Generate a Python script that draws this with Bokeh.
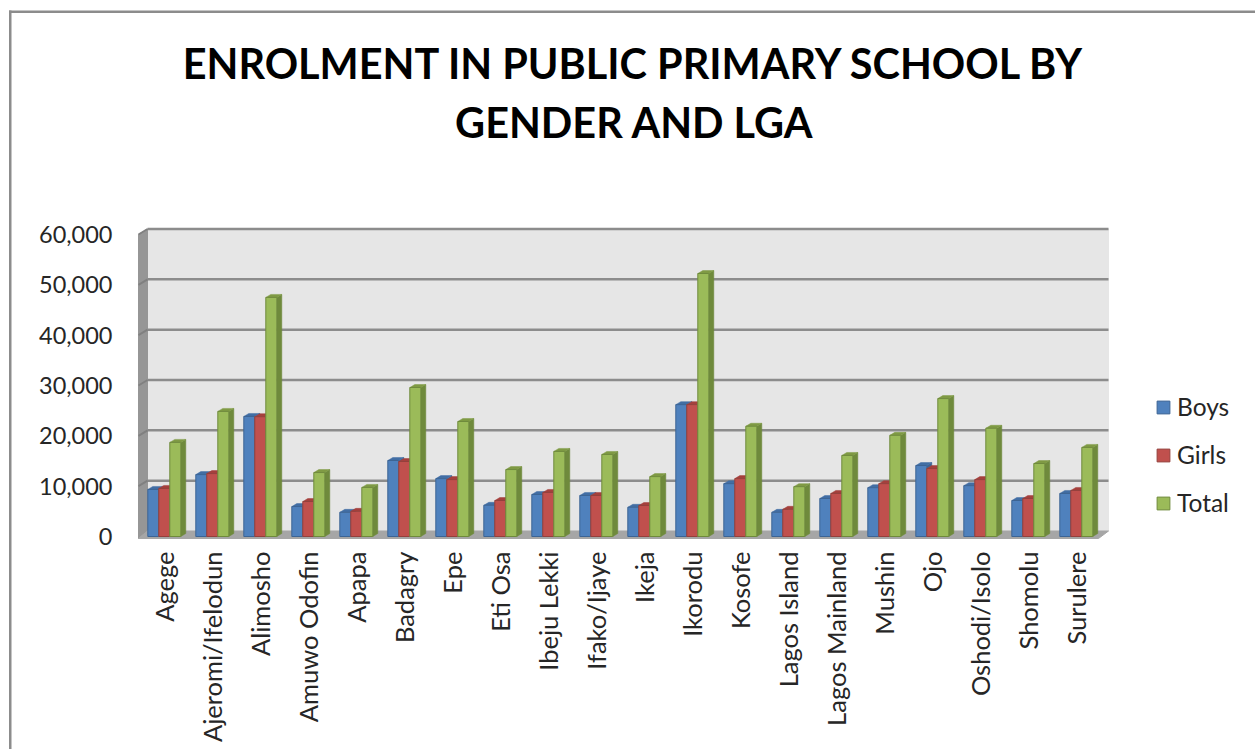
import math
import numpy as np
from bokeh.plotting import figure
from bokeh.models import Range1d, FixedTicker, Label, BoxAnnotation, Legend, LegendItem, ColumnDataSource, NumeralTickFormatter
from bokeh.embed import file_html
from bokeh.resources import INLINE

categories = ["Agege", "Ajeromi/Ifelodun", "Alimosho", "Amuwo Odofin", "Apapa", "Badagry", "Epe", "Eti Osa",
              "Ibeju Lekki", "Ifako/Ijaye", "Ikeja", "Ikorodu", "Kosofe", "Lagos Island", "Lagos Mainland",
              "Mushin", "Ojo", "Oshodi/Isolo", "Shomolu", "Surulere"]
boys = [9350, 12300, 23850, 5950, 4800, 15100, 11500, 6200, 8350, 8150, 5800, 26200, 10500, 4800, 7550, 9700, 14100, 10100, 7150, 8550]
girls = [9550, 12500, 23800, 6950, 5000, 14900, 11300, 7150, 8750, 8150, 6150, 26200, 11500, 5400, 8550, 10500, 13500, 11300, 7550, 9150]
total = [18700, 24850, 47500, 12700, 9750, 29600, 22850, 13300, 16900, 16300, 11900, 52250, 21900, 9900, 16100, 20100, 27400, 21500, 14500, 17700]
y_ticks = [0, 10000, 20000, 30000, 40000, 50000, 60000]
title_lines = ["ENROLMENT IN PUBLIC PRIMARY SCHOOL BY", "GENDER AND LGA"]

FONT = "Lato"
# picture-pixel layout
W, H = 1255, 749
Y0, Y60 = 536, 234
X0, STEP = 163.8, 48.0
val_per_px = 60000 / (Y0 - Y60)


def xd(px):
    return (px - X0) / STEP


def yd(py):
    return (Y0 - py) * val_per_px


p = figure(width=W, height=H, output_backend="svg", toolbar_location=None,
           x_range=Range1d(xd(0), xd(W)), y_range=Range1d(yd(H), yd(0)),
           min_border_left=0, min_border_right=0, min_border_top=0, min_border_bottom=0,
           background_fill_color="white", border_fill_color="white", outline_line_color=None)
p.grid.visible = False

# walls
n = len(categories)
wx_f, wx_b, wx_r = xd(138), xd(147), xd(1108)
wall_dy = 5.5 * val_per_px
top = y_ticks[-1]
p.patch([wx_b, wx_r, wx_r, wx_b], [wall_dy, wall_dy, top + wall_dy, top + wall_dy], fill_color="#e6e6e6", line_color="#e6e6e6")
p.patch([wx_f, wx_b, wx_b, wx_f], [yd(538), wall_dy, top + wall_dy, top], fill_color="#969696", line_color="#969696")
p.patch([wx_f, wx_b, wx_r, xd(1098)], [yd(538), wall_dy, wall_dy, yd(538)], fill_color="#a6a6a6", line_color="#a6a6a6")
for v in y_ticks[1:]:
    p.line([wx_b, wx_r], [v + wall_dy, v + wall_dy], line_color="#8c8c8c", line_width=2.5)
    p.line([wx_f, wx_b], [v, v + wall_dy], line_color="#808080", line_width=2)

# bars
bw = 11 / STEP
dx = 5 / STEP
dy = 3.0 * val_per_px
series = [("Boys", boys, -bw, "#4f81bd", "#3c6494", "#426ea4"),
          ("Girls", girls, 0.0, "#c0504d", "#94403c", "#a5403d"),
          ("Total", total, bw, "#9bbb59", "#6f8a3c", "#7f9a44")]
idx = np.arange(n)
items = []
for name, vals, off, front, side, topc in series:
    vals = np.array(vals, dtype=float)
    c = idx + off
    l, r = c - bw / 2, c + bw / 2
    p.patches([[a, a + dx, a + dx, a] for a in r],
              [[0, dy, v + dy, v] for v in vals], fill_color=side, line_color=side, line_width=0.5)
    p.patches([[a, a + dx, b + dx, b] for a, b in zip(l, r)],
              [[v, v + dy, v + dy, v] for v in vals], fill_color=topc, line_color=topc, line_width=0.5)
    src = ColumnDataSource(dict(x=c, top=vals))
    rend = p.vbar(x="x", top="top", bottom=0, width=bw, source=src, fill_color=front, line_color=side, line_width=1)
    items.append(LegendItem(label=name, renderers=[rend]))

p.xaxis.fixed_location = yd(542)
p.xaxis.ticker = FixedTicker(ticks=list(range(n)))
p.xaxis.major_label_overrides = {i: c for i, c in enumerate(categories)}
p.xaxis.major_label_orientation = math.pi / 2
p.xaxis.major_label_text_font = FONT
p.xaxis.major_label_text_font_size = "25.5px"
p.xaxis.major_label_text_color = "#262626"
p.xaxis.major_label_standoff = 3
p.xaxis.axis_line_color = None
p.xaxis.major_tick_line_color = None
p.xaxis.minor_tick_line_color = None

p.yaxis.fixed_location = xd(138)
p.yaxis.ticker = FixedTicker(ticks=y_ticks)
p.yaxis.formatter = NumeralTickFormatter(format="0,0")
p.yaxis.major_label_text_font = FONT
p.yaxis.major_label_text_font_size = "23.5px"
p.yaxis.major_label_text_color = "#262626"
p.yaxis.major_label_standoff = 20
p.yaxis.axis_line_color = None
p.yaxis.major_tick_line_color = None
p.yaxis.minor_tick_line_color = None

leg = Legend(items=items, location=(1155, H - 517), glyph_width=16, glyph_height=16, label_text_font=FONT,
             label_text_font_size="24.5px", label_text_color="#262626", spacing=19, border_line_color=None,
             background_fill_alpha=0, margin=0, padding=0, label_standoff=6)
p.add_layout(leg, "center")

# chart frame
for l, r, t, b in ((8.5, 11, 10, H), (8.5, W, 10, 12.5)):
    p.add_layout(BoxAnnotation(left=xd(l), right=xd(r), top=yd(t), bottom=yd(b),
                               fill_color="#8c8c8c", fill_alpha=1, line_color=None, level="overlay", editable=False))

for t, yy in zip(title_lines, (62, 121)):
    p.add_layout(Label(x=xd(634), y=yd(yy), text=t, text_font=FONT, text_font_style="bold",
                       text_font_size="41.4px", text_align="center", text_baseline="middle", text_color="black"))

open("out.html", "w").write(file_html(p, INLINE))
